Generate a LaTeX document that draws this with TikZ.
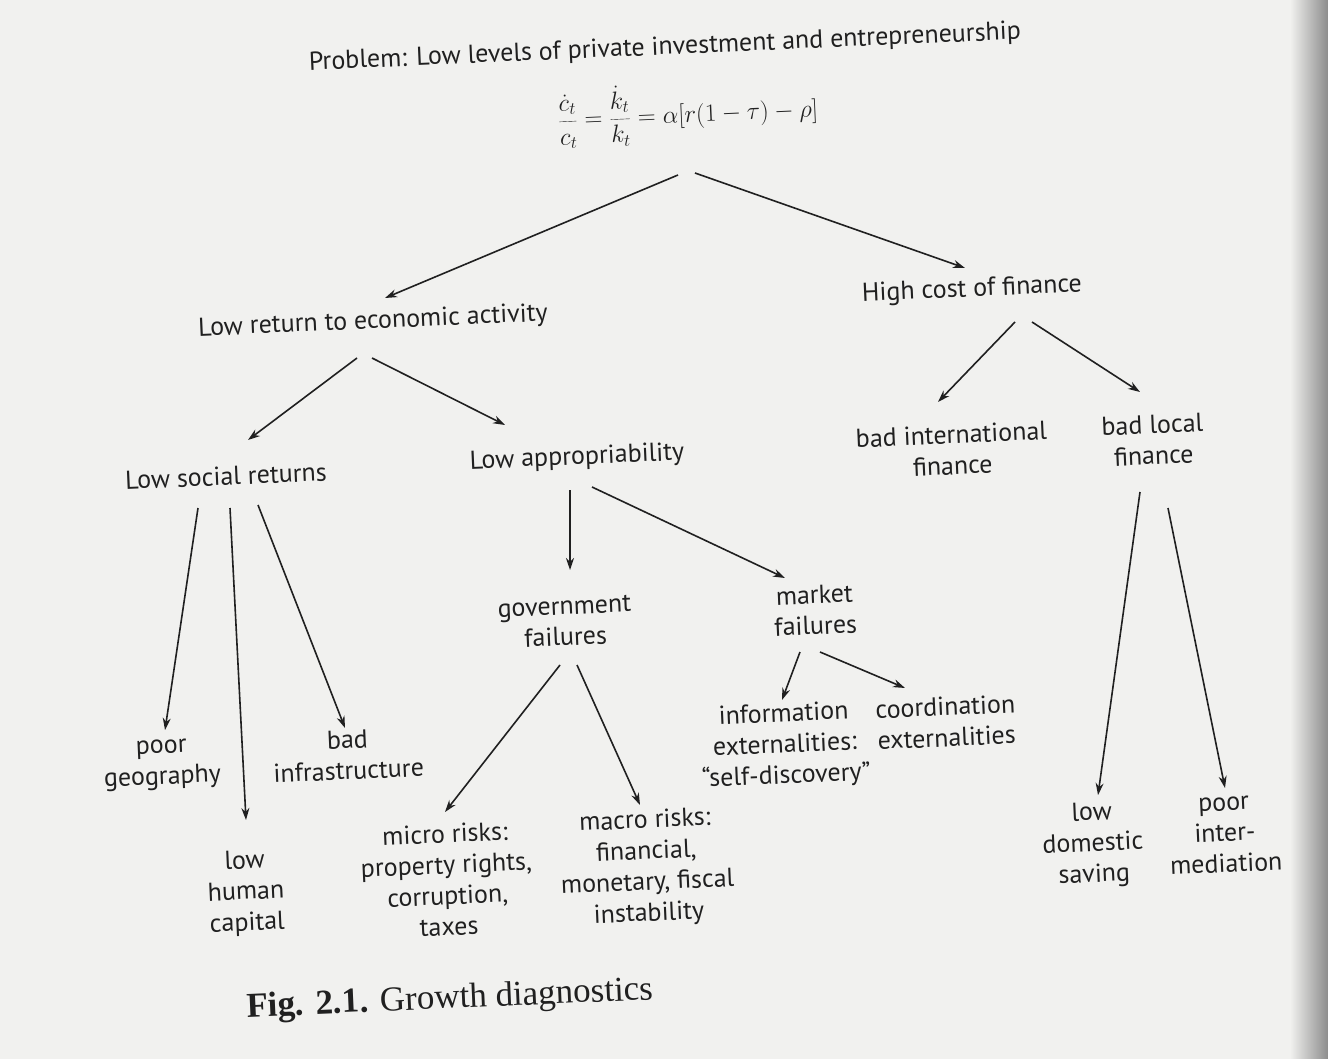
\documentclass[tikz,border=0pt]{standalone}
\usepackage{fontspec}
\setmainfont{PT Sans}
\newfontfamily\capfont{Liberation Serif}
\usetikzlibrary{arrows.meta}
\definecolor{ink}{HTML}{202020}
\definecolor{paper}{HTML}{F1F1EF}
\tikzset{
  lbl/.style={text=ink, align=center, inner sep=0pt, rotate=2.5,
    font=\fontsize{26}{31}\selectfont},
  arr/.style={draw=ink, line width=1.6pt,
    -{Stealth[length=12pt,width=8pt]}},
}
\begin{document}
\begin{tikzpicture}[x=1pt,y=-1pt]
\useasboundingbox (0,0) rectangle (1328,1059);
\fill[paper] (0,0) rectangle (1328,1059);
\shade[left color=paper, right color=black!45] (1290,0) rectangle (1328,1059);

\node[lbl] (prob) at (665,48) {Problem: Low levels of private investment and entrepreneurship};
\node[lbl, font=\fontsize{26}{31}\selectfont] (form) at (688,113) {$\displaystyle\frac{\dot{c}_t}{c_t}=\frac{\dot{k}_t}{k_t}=\alpha[r(1-\tau)-\rho]$};
\node[lbl] (ret) at (373,322) {Low return to economic activity};
\node[lbl] (cost) at (972,290) {High cost of finance};
\node[lbl] (soc) at (226,476) {Low social returns};
\node[lbl] (app) at (577,458) {Low appropriability};
\node[lbl] (intl) at (952,450) {bad international\\finance};
\node[lbl] (loc) at (1153,440) {bad local\\finance};
\node[lbl] (gov) at (565,622) {government\\failures};
\node[lbl] (mkt) at (815,610) {market\\failures};
\node[lbl] (geo) at (162,765) {poor\\geography};
\node[lbl] (infra) at (348,755) {bad\\infrastructure};
\node[lbl] (hum) at (246,893) {low\\human\\capital};
\node[lbl] (micro) at (447,880) {micro risks:\\property rights,\\corruption,\\taxes};
\node[lbl] (macro) at (647,868) {macro risks:\\financial,\\monetary, fiscal\\instability};
\node[lbl] (info) at (785,746) {information\\externalities:\\“self-discovery”};
\node[lbl] (coord) at (946,722) {coordination\\externalities};
\node[lbl] (dom) at (1093,845) {low\\domestic\\saving};
\node[lbl] (inter) at (1225,835) {poor\\inter-\\mediation};
\node[lbl, font=\capfont\fontsize{35}{40}\selectfont] (cap) at (450,1000) {\textbf{Fig. 2.1.} Growth diagnostics};

\draw[arr] ([shift={(-10,62)}]form.center) -- ([shift={(12,-24)}]ret.center);
\draw[arr] ([shift={(7,60)}]form.center) -- ([shift={(-7,-22)}]cost.center);
\draw[arr] ([shift={(-16,36)}]ret.center) -- ([shift={(22,-36)}]soc.center);
\draw[arr] ([shift={(-1,36)}]ret.center) -- ([shift={(-72,-33)}]app.center);
\draw[arr] ([shift={(43,32)}]cost.center) -- ([shift={(-14,-48)}]intl.center);
\draw[arr] ([shift={(60,32)}]cost.center) -- ([shift={(-13,-48)}]loc.center);
\draw[arr] ([shift={(-28,32)}]soc.center) -- ([shift={(3,-35)}]geo.center);
\draw[arr] ([shift={(4,32)}]soc.center) -- ([shift={(0,-73)}]hum.center);
\draw[arr] ([shift={(32,29)}]soc.center) -- ([shift={(-3,-27)}]infra.center);
\draw[arr] ([shift={(-7,32)}]app.center) -- ([shift={(5,-52)}]gov.center);
\draw[arr] ([shift={(15,29)}]app.center) -- ([shift={(-30,-32)}]mkt.center);
\draw[arr] ([shift={(-5,43)}]gov.center) -- ([shift={(-2,-68)}]micro.center);
\draw[arr] ([shift={(12,43)}]gov.center) -- ([shift={(-7,-63)}]macro.center);
\draw[arr] ([shift={(-15,42)}]mkt.center) -- ([shift={(-3,-46)}]info.center);
\draw[arr] ([shift={(5,42)}]mkt.center) -- ([shift={(-41,-34)}]coord.center);
\draw[arr] ([shift={(-13,52)}]loc.center) -- ([shift={(5,-50)}]dom.center);
\draw[arr] ([shift={(15,68)}]loc.center) -- ([shift={(0,-47)}]inter.center);
\end{tikzpicture}
\end{document}
